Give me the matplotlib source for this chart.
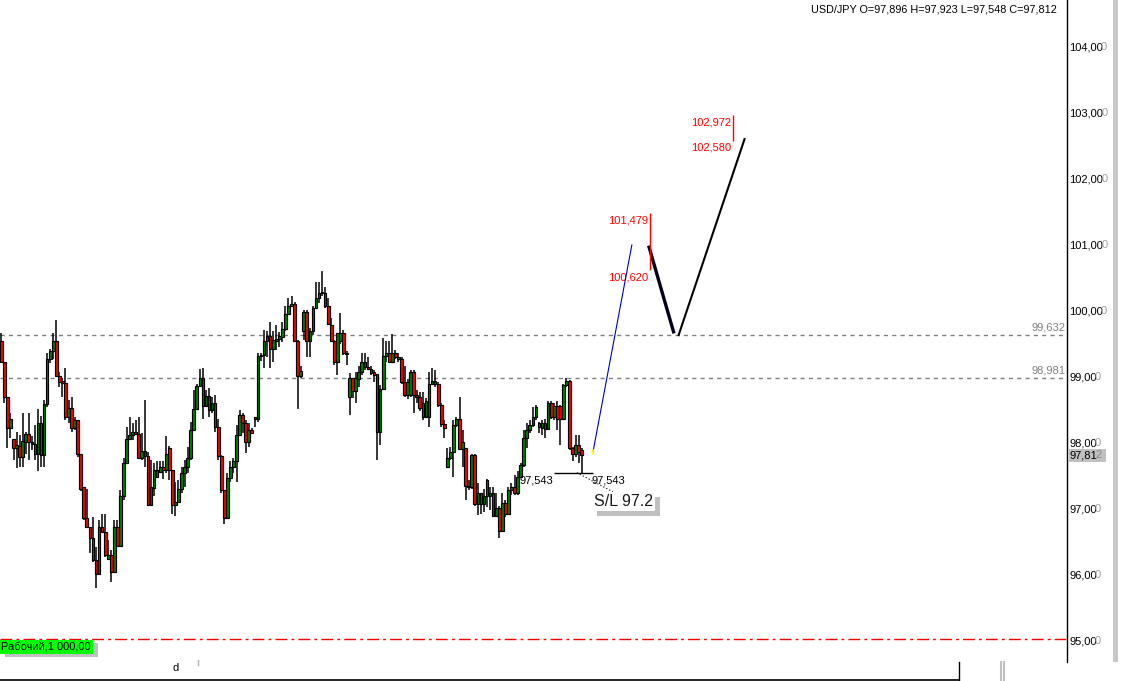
import matplotlib
matplotlib.use("Agg")
import matplotlib.pyplot as plt
import matplotlib.transforms as mtransforms
import matplotlib.patheffects as pe
from matplotlib.patches import Rectangle
from matplotlib.lines import Line2D
import numpy as np

plt.rcParams['font.family'] = ['Liberation Sans', 'DejaVu Sans']

# ---------------- data (USD/JPY candles) ----------------
opens = [99.54, 99.23, 98.70, 98.22, 98.06, 97.93, 97.96, 97.79, 98.02, 98.13,
         97.99, 97.99, 97.83, 98.31, 97.82, 98.59, 99.28, 99.40, 99.55, 99.02,
         98.94, 98.91, 98.39, 98.53, 98.22, 98.35, 97.83, 97.33, 96.87, 96.72,
         96.56, 96.23, 96.02, 96.73, 96.65, 96.24, 96.30, 96.05, 96.73, 96.44,
         97.19, 97.69, 98.06, 98.12, 98.16, 98.13, 97.77, 97.88, 97.80, 97.06,
         97.32, 97.59, 97.56, 97.64, 97.59, 97.92, 97.59, 97.06, 97.11, 97.30,
         97.55, 97.64, 97.78, 98.20, 98.51, 98.86, 98.99, 98.56, 98.71, 98.50,
         98.61, 98.25, 97.80, 97.29, 96.87, 97.47, 97.63, 97.72, 98.12, 98.43,
         98.30, 98.02, 98.19, 98.40, 98.37, 99.32, 99.33, 99.55, 99.62, 99.42,
         99.55, 99.58, 99.61, 99.72, 99.95, 100.08, 100.11, 99.55, 99.02, 99.69,
         99.99, 99.55, 99.69, 100.05, 100.19, 100.27, 100.28, 100.07, 99.79, 99.54,
         99.22, 99.55, 99.66, 99.37, 98.69, 98.98, 98.79, 98.97, 99.07, 99.22,
         99.15, 99.12, 99.07, 99.04, 98.16, 98.82, 99.32, 99.37, 99.22, 99.37,
         99.28, 99.28, 98.93, 98.72, 98.72, 99.07, 98.72, 98.70, 98.60, 98.40,
         98.40, 98.89, 98.94, 98.90, 98.57, 98.29, 97.63, 97.78, 97.86, 98.27,
         98.36, 97.91, 97.92, 97.35, 97.34, 97.82, 97.07, 97.24, 97.07, 97.20,
         97.20, 97.25, 96.90, 97.01, 96.67, 97.09, 96.93, 97.29, 97.34, 97.24,
         97.49, 97.67, 98.07, 98.20, 98.27, 98.40, 98.30, 98.22, 98.30, 98.21,
         98.61, 98.40, 98.56, 98.56, 98.36, 98.88, 98.94, 97.92, 97.84, 97.97,
         97.896]
highs = [99.66, 99.23, 98.70, 98.45, 98.06, 98.17, 98.12, 98.45, 98.17, 98.46,
         98.10, 98.27, 98.52, 98.41, 98.65, 99.36, 99.43, 99.66, 99.86, 99.08,
         98.98, 99.13, 98.65, 98.70, 98.40, 98.35, 97.84, 97.33, 97.31, 96.73,
         96.88, 96.43, 96.83, 96.93, 96.93, 96.53, 96.38, 96.83, 96.83, 97.29,
         97.77, 98.25, 98.40, 98.30, 98.35, 98.40, 98.15, 98.65, 97.87, 97.74,
         97.69, 97.72, 97.72, 97.72, 98.11, 97.95, 97.59, 97.41, 97.44, 97.64,
         97.74, 97.94, 98.32, 98.80, 98.90, 99.12, 99.13, 98.80, 98.83, 98.70,
         98.73, 98.37, 97.82, 97.29, 97.54, 97.72, 97.77, 98.27, 98.50, 98.45,
         98.35, 98.30, 98.22, 98.40, 99.36, 99.36, 99.71, 99.69, 99.84, 99.69,
         99.79, 99.68, 99.84, 100.07, 100.19, 100.22, 100.13, 99.56, 99.16, 100.02,
         100.02, 99.74, 100.07, 100.44, 100.44, 100.60, 100.37, 100.19, 99.89, 99.56,
         99.66, 99.97, 99.71, 99.40, 99.06, 98.99, 99.08, 99.16, 99.36, 99.36,
         99.31, 99.16, 99.11, 99.05, 98.88, 99.59, 99.54, 99.54, 99.65, 99.41,
         99.36, 99.31, 99.16, 98.97, 99.11, 99.11, 98.80, 98.78, 98.78, 98.68,
         99.08, 99.13, 99.11, 98.93, 98.60, 98.35, 97.92, 97.94, 98.35, 98.40,
         98.70, 98.20, 97.92, 97.44, 97.84, 97.84, 97.39, 97.24, 97.31, 97.46,
         97.34, 97.34, 97.24, 97.04, 97.24, 97.14, 97.34, 97.39, 97.52, 97.57,
         97.69, 98.20, 98.30, 98.35, 98.55, 98.58, 98.32, 98.35, 98.37, 98.63,
         98.63, 98.60, 98.63, 98.58, 98.90, 98.98, 98.95, 97.94, 98.12, 98.12,
         97.923]
lows = [99.23, 98.60, 97.93, 98.07, 97.74, 97.62, 97.64, 97.64, 97.84, 97.74,
        97.90, 97.74, 97.57, 97.64, 97.64, 98.55, 99.21, 99.28, 99.01, 98.85,
        98.70, 98.35, 98.30, 98.16, 98.20, 97.79, 97.28, 96.83, 96.71, 96.33,
        96.20, 95.80, 96.00, 96.63, 96.28, 96.23, 95.90, 96.03, 96.44, 96.43,
        97.14, 97.69, 98.05, 98.05, 98.12, 97.77, 97.74, 97.64, 97.04, 97.04,
        97.19, 97.47, 97.55, 97.45, 97.54, 97.44, 96.93, 96.89, 97.11, 97.24,
        97.34, 97.54, 97.74, 98.19, 98.50, 98.86, 98.37, 98.55, 98.40, 98.45,
        98.17, 97.74, 97.24, 96.78, 96.86, 97.41, 97.54, 97.41, 98.10, 98.15,
        97.85, 97.94, 98.14, 98.25, 98.32, 99.25, 99.13, 99.31, 99.13, 99.23,
        99.41, 99.45, 99.53, 99.69, 99.94, 100.07, 99.54, 98.52, 98.98, 99.56,
        99.31, 99.31, 99.64, 100.04, 100.12, 100.22, 100.04, 99.79, 99.53, 99.18,
        99.03, 99.50, 99.33, 99.18, 98.42, 98.68, 98.61, 98.85, 99.03, 99.11,
        99.10, 99.03, 98.93, 97.74, 97.97, 98.80, 99.22, 99.21, 99.21, 99.28,
        99.23, 98.90, 98.70, 98.66, 98.70, 98.45, 98.60, 98.48, 98.35, 98.38,
        98.25, 98.88, 98.85, 98.55, 98.25, 98.07, 97.62, 97.74, 97.49, 98.25,
        97.89, 97.64, 97.14, 97.29, 97.31, 97.04, 96.91, 96.93, 96.96, 97.03,
        96.98, 96.88, 96.88, 96.56, 96.66, 96.88, 96.91, 97.21, 97.21, 97.21,
        97.47, 97.64, 97.92, 98.15, 98.25, 98.35, 98.15, 98.12, 98.07, 98.20,
        98.37, 98.35, 98.20, 97.97, 98.35, 98.85, 97.89, 97.72, 97.79, 97.69,
        97.548]
closes = [99.23, 98.70, 98.22, 98.36, 97.93, 97.97, 97.79, 98.03, 98.13, 98.01,
          98.01, 97.83, 98.31, 97.82, 98.59, 99.28, 99.40, 99.55, 99.02, 98.93,
          98.91, 98.39, 98.53, 98.22, 98.35, 97.83, 97.31, 96.87, 96.72, 96.56,
          96.23, 96.02, 96.73, 96.65, 96.30, 96.30, 96.05, 96.73, 96.44, 97.19,
          97.69, 98.06, 98.12, 98.16, 98.13, 97.77, 97.88, 97.80, 97.06, 97.33,
          97.59, 97.48, 97.64, 97.59, 97.83, 97.59, 97.06, 97.11, 97.30, 97.55,
          97.64, 97.78, 98.20, 98.51, 98.86, 98.99, 98.56, 98.71, 98.50, 98.61,
          98.25, 97.80, 97.29, 96.87, 97.47, 97.63, 97.72, 98.12, 98.43, 98.30,
          98.02, 98.19, 98.15, 98.36, 99.32, 99.33, 99.55, 99.62, 99.42, 99.56,
          99.58, 99.62, 99.72, 99.95, 100.08, 100.11, 99.55, 99.02, 99.09, 99.99,
          99.55, 99.69, 100.05, 100.19, 100.28, 100.28, 100.07, 99.81, 99.54, 99.22,
          99.66, 99.67, 99.36, 99.35, 98.98, 98.79, 98.98, 99.08, 99.22, 99.15,
          99.12, 99.06, 99.03, 98.16, 98.82, 99.32, 99.37, 99.22, 99.37, 99.31,
          99.30, 98.93, 98.72, 98.93, 99.07, 98.72, 98.69, 98.53, 98.40, 98.63,
          98.89, 98.94, 98.90, 98.57, 98.29, 98.22, 97.78, 97.86, 98.27, 98.36,
          97.91, 98.02, 97.35, 97.34, 97.82, 97.07, 97.24, 97.07, 97.20, 97.44,
          97.25, 96.90, 97.01, 96.67, 97.09, 96.93, 97.29, 97.34, 97.24, 97.49,
          97.67, 98.07, 98.20, 98.27, 98.40, 98.55, 98.25, 98.30, 98.21, 98.61,
          98.40, 98.56, 98.37, 98.36, 98.88, 98.94, 97.92, 97.84, 97.97, 97.87,
          97.812]

price_ticks = [95, 96, 97, 98, 99, 100, 101, 102, 103, 104]
levels = [99.632, 98.981]          # dashed grey horizontal levels
margin_level = 95.03               # red dash-dot line
margin_label = "Рабочий,1 000,00"
low_mark = 97.543                  # black horizontal mark
low_mark_span = [180.9, 193.7]     # bar index range
# projection lines (bar index, price)
blue_x = [193.7, 206.4]
blue_y = [97.87, 101.00]
wave1_x = [211.9, 220.2]
wave1_y = [100.99, 99.66]
wave2_x = [221.6, 243.4]
wave2_y = [99.62, 102.62]
# target ranges (red vertical lines)
tgt_x = [212.2, 239.6]
tgt_hi = [101.479, 102.972]
tgt_lo = [100.620, 102.580]
sl_text = "S/L 97.2"
symbol = "USD/JPY"

def fmt(v):
    return f"{v:.3f}".replace('.', ',')

# ---------------- figure ----------------
W, H = 1121, 681
fig = plt.figure(figsize=(W / 100, H / 100), dpi=100)
fig.patch.set_facecolor('white')
AX_R, AX_B = 1067, 662
ax = fig.add_axes([0, 1 - AX_B / H, AX_R / W, AX_B / H])
BAR_PX, X0_PX = 3.055, 1.3
ax.set_xlim((0 - X0_PX) / BAR_PX, (AX_R - X0_PX) / BAR_PX)
ax.set_ylim(100 - (AX_B - 311) / 66, 100 + 311 / 66)
ax.set_xticks([]); ax.set_yticks([])
for s in ['top', 'left', 'bottom']:
    ax.spines[s].set_visible(False)
ax.spines['right'].set_color('black')
ax.spines['right'].set_linewidth(1.0)

tr = mtransforms.blended_transform_factory(ax.transAxes, ax.transData)

# level lines
for lv in levels:
    ax.axhline(lv, color='#808080', lw=1.0, ls=(0, (3, 3)), zorder=1)
    ax.text(1 - 2 / AX_R, lv + 0.045, fmt(lv), transform=tr, ha='right', va='bottom',
            color='#808080', fontsize=8)
ax.axhline(margin_level, color='#ff0000', lw=1.0, ls=(0, (8.5, 3, 2, 3)), zorder=1)

# candles
idx = np.arange(len(opens))
o = np.array(opens); c = np.array(closes)
hi = np.array(highs); lo = np.array(lows)
up = c >= o
cols = np.where(up, '#008000', '#ff0000')
ax.vlines(idx, lo, hi, color='black', lw=1.1, zorder=2)
bottom = np.minimum(o, c)
height = np.maximum(np.abs(c - o), 0.012)
ax.bar(idx, height, bottom=bottom, width=0.88, color=cols, edgecolor='black',
       linewidth=0.85, zorder=3)

# low mark
ax.hlines(low_mark, low_mark_span[0], low_mark_span[1], color='black', lw=1.0, zorder=4)
ax.text(low_mark_span[0] - 0.2, low_mark - 0.105, fmt(low_mark), ha='right', va='center',
        fontsize=8, color='black', zorder=5)
ax.plot([188.4, 200.2], [97.55, 97.26], color='black', lw=0.8, ls=(0, (1, 2)), zorder=4)
ax.text(low_mark_span[1] - 0.4, low_mark - 0.105, fmt(low_mark), ha='left', va='center',
        fontsize=8, color='black', zorder=5)

# S/L box
t_sl = ax.text(203.8, 97.11, sl_text, ha='center', va='center', fontsize=11.5,
               color='#1a1a1a', zorder=6,
               bbox=dict(boxstyle='square,pad=0.12', fc='white', ec='none'))
t_sl.get_bbox_patch().set_path_effects([
    pe.SimplePatchShadow(offset=(3.6, -3.6), shadow_rgbFace='#c0c0c0', alpha=1.0),
    pe.Normal()])

# projections
ax.plot(blue_x, blue_y, color='#0000c0', lw=0.8, zorder=4)
ax.plot([blue_x[0] - 0.1, blue_x[0] - 0.1], [blue_y[0] - 0.03, blue_y[0] + 0.02],
        color='#ffff00', lw=1.2, zorder=5)
ax.plot(wave1_x, wave1_y, color='#000018', lw=2.4, solid_capstyle='butt', zorder=4)
ax.plot(wave2_x, wave2_y, color='black', lw=1.5, solid_capstyle='butt', zorder=4)
for x, h_, l_ in zip(tgt_x, tgt_hi, tgt_lo):
    ax.vlines(x, l_, h_, color='#ff0000', lw=1.0, zorder=4)
    ax.text(x - 0.6, h_ - 0.115, fmt(h_), ha='right', va='center', color='#ff0000', fontsize=8)
    ax.text(x - 0.6, l_ - 0.105, fmt(l_), ha='right', va='center', color='#ff0000', fontsize=8)

# margin label box
t_m = ax.text(0.0012, margin_level - 0.12, margin_label, transform=tr, ha='left', va='center',
              fontsize=8, color='black', zorder=6,
              bbox=dict(boxstyle='square,pad=0.15', fc='#00ff00', ec='none'))
t_m.get_bbox_patch().set_path_effects([
    pe.SimplePatchShadow(offset=(3.6, -2.2), shadow_rgbFace='#c0c0c0', alpha=1.0),
    pe.Normal()])

# right price axis labels
for p in price_ticks:
    s = f"{p:.3f}".replace('.', ',')
    t = ax.text(1 + 2 / AX_R, p, s[:-1], transform=tr, ha='left', va='center',
                fontsize=8, color='black', clip_on=False)
    ax.annotate(s[-1], xy=(1, 0.5), xycoords=t, xytext=(-1.2, 0), textcoords='offset points',
                ha='left', va='center', fontsize=8, color='#a0a0a0')

# current price box
last = closes[-1]
ax.add_patch(Rectangle((1 + 1.5 / AX_R, last - 0.095), 37 / AX_R, 0.19, transform=tr,
                       fc='#c0c0c0', ec='none', clip_on=False, zorder=5))
sl = fmt(last)
t = ax.text(1 + 2 / AX_R, last, sl[:-1], transform=tr, ha='left', va='center',
            fontsize=8, color='black', clip_on=False, zorder=6)
ax.annotate(sl[-1], xy=(1, 0.5), xycoords=t, xytext=(-1.2, 0), textcoords='offset points',
            ha='left', va='center', fontsize=8, color='#8a8a8a', zorder=6)

# title (OHLC of last bar)
title = f"{symbol} O={fmt(opens[-1])} H={fmt(highs[-1])} L={fmt(lows[-1])} C={fmt(closes[-1])}"
fig.text(1057 / W, 1 - 9 / H, title, ha='right', va='center', fontsize=7.8, color='black')

# window chrome (bottom strip, scrollbar)
def fx(px): return px / W
def fy(py): return 1 - py / H
fig.add_artist(Line2D([fx(0), fx(959)], [fy(680), fy(680)], color='black', lw=1.2))
fig.add_artist(Line2D([fx(959), fx(959)], [fy(662), fy(680.5)], color='black', lw=1.0))
for xg in (1000.5, 1003.5):
    fig.add_artist(Line2D([fx(xg), fx(xg)], [fy(662), fy(681)], color='#c0c0c0', lw=1.5))
fig.add_artist(Rectangle((fx(1113), fy(662)), 5 / W, 662 / H, transform=fig.transFigure,
                         fc='#c8c8c8', ec='none'))
fig.add_artist(Line2D([fx(197.5), fx(197.5)], [fy(660), fy(665)], color='#b0b0b0', lw=1.0))
fig.text(fx(176), fy(668), "d", ha='center', va='center', fontsize=8, color='black')

fig.savefig("out.png", dpi=100, facecolor='white')
